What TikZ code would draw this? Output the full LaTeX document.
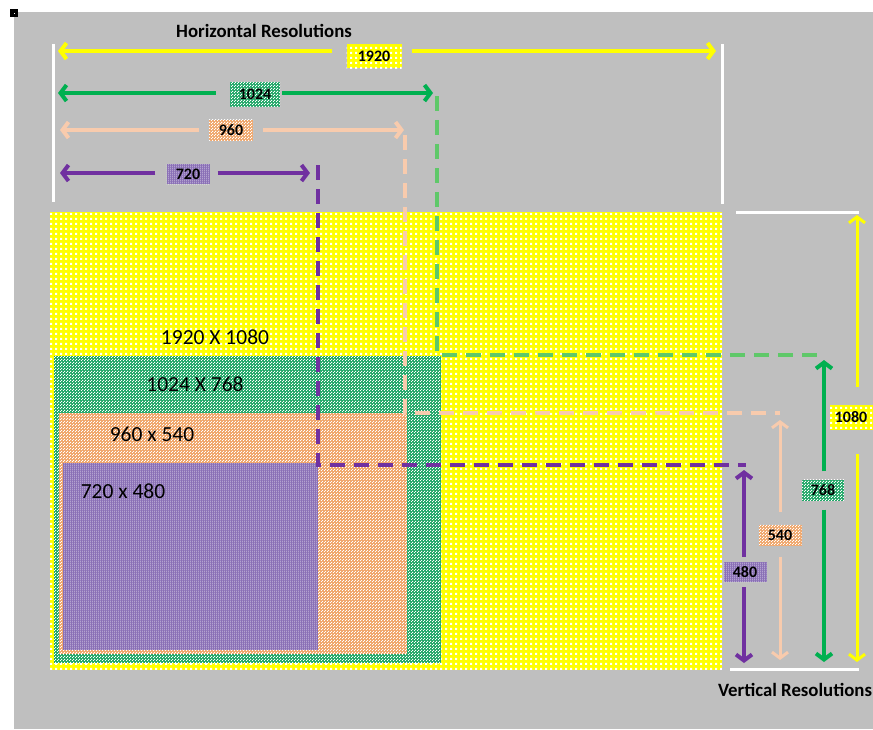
\documentclass[tikz,border=0pt]{standalone}
\usepackage{fontspec}
\setmainfont{Carlito}
\usetikzlibrary{arrows.meta}
\usetikzlibrary{patterns.meta}

\definecolor{bggray}{RGB}{191,191,191}
\definecolor{resyel}{RGB}{255,255,0}
\definecolor{resgreen}{RGB}{0,176,80}
\definecolor{resgreenlt}{RGB}{95,200,105}
\definecolor{resgreenbg}{RGB}{35,168,105}
\definecolor{respeach}{RGB}{248,203,173}
\definecolor{respeachbg}{RGB}{240,168,110}
\definecolor{respurple}{RGB}{112,48,160}
\definecolor{respurplebg}{RGB}{138,112,182}

\tikzdeclarepattern{name=ydots, bottom left={(0pt,0pt)}, top right={(5pt,5pt)},
  tile size={(5pt,5pt)}, code={\fill (0pt,0pt) rectangle (2.4pt,2.4pt);}}
\tikzdeclarepattern{name=gdots, bottom left={(0pt,0pt)}, top right={(3pt,3pt)},
  tile size={(3pt,3pt)}, code={\fill (0pt,0pt) rectangle (1.3pt,1.3pt); \fill (1.5pt,1.5pt) rectangle (2.8pt,2.8pt);}}
\tikzdeclarepattern{name=pchecks, bottom left={(0pt,0pt)}, top right={(2.6pt,2.6pt)},
  tile size={(2.6pt,2.6pt)}, code={\fill (0pt,0pt) rectangle (1pt,1pt); \fill (1.3pt,1.3pt) rectangle (2.3pt,2.3pt);}}
\tikzdeclarepattern{name=plines, bottom left={(0pt,0pt)}, top right={(2pt,2pt)},
  tile size={(2pt,2pt)}, code={\fill (0pt,0pt) rectangle (0.6pt,2pt);}}

\tikzset{
  yelfill/.style={fill=resyel, postaction={pattern=ydots, pattern color=white}},
  grnfill/.style={fill=resgreenbg, postaction={pattern=gdots, pattern color=white}},
  pchfill/.style={fill=respeachbg, postaction={pattern=pchecks, pattern color=white}},
  purfill/.style={fill=respurplebg, postaction={pattern=plines, pattern color=white}},
  dimlab/.style={inner sep=0pt, font=\bfseries\fontsize{16}{18}\selectfont},
  restext/.style={font=\fontsize{21.5}{24}\selectfont},
  titletext/.style={font=\bfseries\fontsize{18.8}{22}\selectfont},
  halfarrow/.style={line width=4pt, -{Straight Barb[length=6pt,width=16pt]}},
  dashline/.style={line width=4pt, dash pattern=on 15pt off 9pt},
  rule/.style={white, line width=3pt}
}

\begin{document}
\begin{tikzpicture}[x=1pt,y=-1pt]
\useasboundingbox (0,0) rectangle (873,729);
\fill[bggray] (14,12) rectangle (873,729);
\fill[black] (10,9) rectangle (18,17);
\fill[white] (13.5,12.5) rectangle (14.5,13.5);

\node[titletext] (htitle) at (264,31) {Horizontal Resolutions};
\node[titletext] (vtitle) at (795,690) {Vertical Resolutions};

\draw[rule] (53,44) -- (53,202);
\draw[rule] (722,44) -- (722,204);
\draw[rule] (736,212) -- (859,212);
\draw[rule] (730,669) -- (859,669);

\path[yelfill] (50,212) rectangle (722,670);
\path[grnfill] (54,356) rectangle (441,663);
\path[pchfill] (59,413) rectangle (407,654);
\path[purfill] (63,463) rectangle (318,650);

\node[restext] (t1920) at (215,337) {1920 X 1080};
\node[restext] (t1024) at (195,384) {1024 X 768};
\node[restext] (t960) at (152,434) {960 x 540};
\node[restext] (t720) at (123,491) {720 x 480};

\coordinate (yh1) at (58,51);
\coordinate (yh2) at (716,51);
\coordinate (gh1) at (58,93);
\coordinate (gh2) at (433,93);
\coordinate (ph1) at (60,130);
\coordinate (ph2) at (404,130);
\coordinate (uh1) at (60,173);
\coordinate (uh2) at (310,173);

\node[dimlab, yelfill, minimum width=55pt, minimum height=24pt] (l1920) at (374,56) {1920};
\node[dimlab, grnfill, minimum width=50pt, minimum height=25pt] (l1024) at (255,94) {1024};
\node[dimlab, pchfill, minimum width=44pt, minimum height=21pt] (l960) at (231,130) {960};
\node[dimlab, purfill, minimum width=43pt, minimum height=20pt] (l720) at (188,174) {720};

\draw[halfarrow, resyel, shorten <=14pt] (l1920.west |- yh1) -- (yh1);
\draw[halfarrow, resyel, shorten <=10pt] (l1920.east |- yh2) -- (yh2);
\draw[halfarrow, resgreen, shorten <=14pt] (l1024.west |- gh1) -- (gh1);
\draw[halfarrow, resgreen, shorten <=2pt] (l1024.east |- gh2) -- (gh2);
\draw[halfarrow, respeach, shorten <=10pt] (l960.west |- ph1) -- (ph1);
\draw[halfarrow, respeach, shorten <=10pt] (l960.east |- ph2) -- (ph2);
\draw[halfarrow, respurple, shorten <=11pt] (l720.west |- uh1) -- (uh1);
\draw[halfarrow, respurple, shorten <=8pt] (l720.east |- uh2) -- (uh2);

\coordinate (uv1) at (744,470);
\coordinate (uv2) at (744,663);
\coordinate (pv1) at (780,420);
\coordinate (pv2) at (780,660);
\coordinate (gv1) at (824,360);
\coordinate (gv2) at (824,662);
\coordinate (yv1) at (857,215);
\coordinate (yv2) at (857,662);

\node[dimlab, purfill, minimum width=43pt, minimum height=20pt] (l480) at (745,572) {480};
\node[dimlab, pchfill, minimum width=43pt, minimum height=21pt] (l540) at (780,535) {540};
\node[dimlab, grnfill, minimum width=42pt, minimum height=21pt] (l768) at (823,490) {768};
\node[dimlab, yelfill, minimum width=43pt, minimum height=25pt] (l1080) at (851,417) {1080};

\draw[halfarrow, respurple, shorten <=5pt] (l480.north -| uv1) -- (uv1);
\draw[halfarrow, respurple, shorten <=5pt] (l480.south -| uv2) -- (uv2);
\draw[halfarrow, respeach, line width=3pt, shorten <=12pt] (l540.north -| pv1) -- (pv1);
\draw[halfarrow, respeach, line width=3pt, shorten <=11pt] (l540.south -| pv2) -- (pv2);
\draw[halfarrow, resgreen, shorten <=8pt] (l768.north -| gv1) -- (gv1);
\draw[halfarrow, resgreen, shorten <=9pt] (l768.south -| gv2) -- (gv2);
\draw[halfarrow, resyel, line width=3pt, shorten <=17pt] (l1080.north -| yv1) -- (yv1);
\draw[halfarrow, resyel, line width=3pt, shorten <=24pt] (l1080.south -| yv2) -- (yv2);

\draw[dashline, respurple] ([xshift=8pt,yshift=8pt]uh2) |- ([xshift=2pt,yshift=5pt]uv1);
\draw[dashline, resgreenlt] ([xshift=4pt,yshift=-3pt]gh2) |- ([yshift=5pt]gv1);
\draw[dashline, respeach] ([xshift=1pt,yshift=-5pt]ph2) |- ([yshift=7pt]pv1);
\end{tikzpicture}
\end{document}
